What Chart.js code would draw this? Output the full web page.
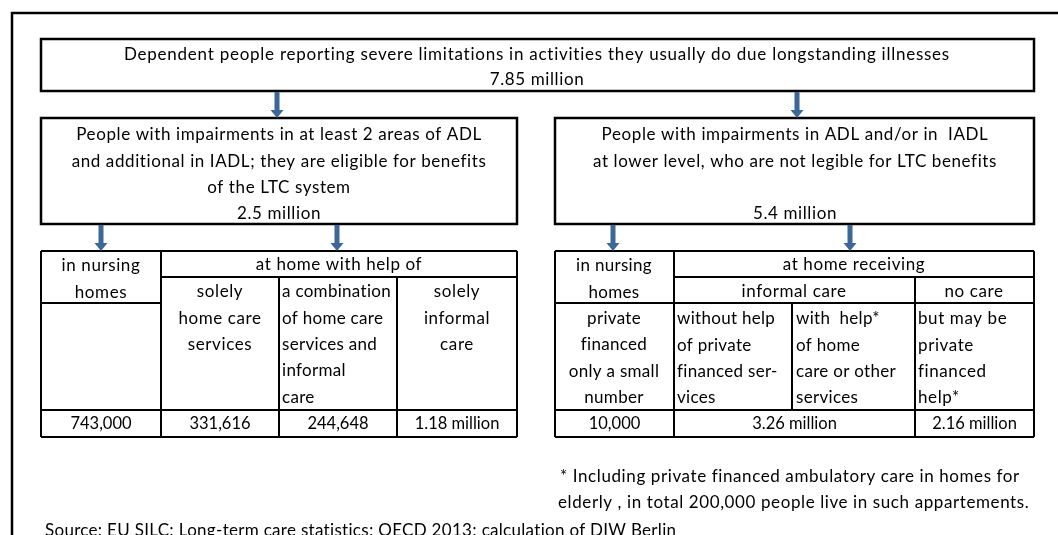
<!DOCTYPE html>
<html>
<head>
<meta charset="utf-8">
<script src="https://cdn.jsdelivr.net/npm/chart.js@4.4.1/dist/chart.umd.min.js"></script>
<style>
  html, body { margin: 0; padding: 0; background: #fff; }
  #wrap { width: 1058px; height: 535px; }
</style>
</head>
<body>
<div id="wrap"><canvas id="myChart"></canvas></div>
<script>
// data
const totalPeople = "7.85 million";
const groupTotals = ["2.5 million", "5.4 million"];
const eligibleCategories = ["in nursing homes", "solely home care services", "a combination of home care services and informal care", "solely informal care"];
const eligibleValues = ["743,000", "331,616", "244,648", "1.18 million"];
const notEligibleCategories = ["in nursing homes", "informal care", "no care"];
const notEligibleValues = ["10,000", "3.26 million", "2.16 million"];

const FONT = "17px Lato";
const SPACING = "0.6px";
const LINE = 26.3;
const ARROW = "#3c6897";

// layout in diagram units (x 0..1058, y 0..535)
const boxes = [
  [41, 39, 1034, 91],
  [41, 118, 517, 224],
  [555, 118, 1034, 224],
];
const lines = [
  // left table
  [41, 251, 517, 251], [41, 437, 517, 437], [41, 251, 41, 437], [517, 251, 517, 437],
  [161, 251, 161, 437], [161, 277, 517, 277], [41, 303, 161, 303], [41, 410, 517, 410],
  [279, 277, 279, 437], [397, 277, 397, 437],
  // right table
  [555, 251, 1034, 251], [555, 437, 1034, 437], [555, 251, 555, 437], [1034, 251, 1034, 437],
  [674, 251, 674, 437], [674, 277, 1034, 277], [555, 303, 1034, 303], [555, 410, 1034, 410],
  [915, 277, 915, 437], [792, 303, 792, 410],
];
const arrows = [[277, 92, 118], [797, 92, 118], [101, 225, 251], [337, 225, 251], [613, 225, 251], [850, 225, 251]];

// text blocks: [x, y of first line, align, lines, letter spacing]
const texts = [
  [537, 55, "center", ["Dependent people reporting severe limitations in activities they usually do due longstanding illnesses"], "0.75px"],
  [537, 80, "center", [totalPeople]],
  [279, 135, "center", ["People with impairments in at least 2 areas of ADL", "and additional in IADL; they are eligible for benefits", "of the LTC system", groupTotals[0]]],
  [795, 135, "center", ["People with impairments in ADL and/or in  IADL", "at lower level, who are not legible for LTC benefits", "", groupTotals[1]]],
  // left table
  [101, 266, "center", ["in nursing", "homes"]],
  [339, 265, "center", ["at home with help of"]],
  [220, 292, "center", ["solely", "home care", "services"]],
  [282, 292, "left", ["a combination", "of home care", "services and", "informal", "care"], "0.3px"],
  [457, 292, "center", ["solely", "informal", "care"]],
  // right table
  [614, 266, "center", ["in nursing", "homes", "private", "financed", "only a small", "number"], "0.3px"],
  [854, 265, "center", ["at home receiving"]],
  [794, 292, "center", ["informal care"]],
  [974, 292, "center", ["no care"]],
  [677, 319, "left", ["without help", "of private", "financed ser-", "vices"], "0.3px"],
  [796, 319, "left", ["with  help*", "of home", "care or other", "services"], "0.3px"],
  [918, 319, "left", ["but may be", "private", "financed", "help*"]],
  // notes
  [560, 477, "left", ["* Including private financed ambulatory care in homes for"]],
  [558, 503, "left", ["elderly , in total 200,000 people live in such appartements."]],
  [45, 531, "left", ["Source: EU SILC; Long-term care statistics; OECD 2013; calculation of DIW Berlin"], "0.3px"],
];
const valueCells = [
  [41, 161, eligibleValues[0]], [161, 279, eligibleValues[1]], [279, 397, eligibleValues[2]], [397, 517, eligibleValues[3]],
  [555, 674, notEligibleValues[0]], [674, 915, notEligibleValues[1]], [915, 1034, notEligibleValues[2]],
];

const diagram = {
  id: "diagram",
  afterDraw(chart) {
    const c = chart.ctx;
    const X = v => chart.scales.x.getPixelForValue(v);
    const Y = v => chart.scales.y.getPixelForValue(v);
    c.save();
    // outer frame
    c.strokeStyle = "#000";
    c.lineWidth = 2.5;
    c.beginPath();
    c.moveTo(X(1058), Y(13)); c.lineTo(X(12), Y(13)); c.lineTo(X(12), Y(535));
    c.stroke();

    c.lineWidth = 2.5;
    boxes.forEach(b => c.strokeRect(X(b[0]), Y(b[1]), X(b[2]) - X(b[0]), Y(b[3]) - Y(b[1])));
    c.lineWidth = 2;
    lines.forEach(l => {
      c.beginPath(); c.moveTo(X(l[0]), Y(l[1])); c.lineTo(X(l[2]), Y(l[3])); c.stroke();
    });

    c.fillStyle = ARROW;
    arrows.forEach(a => {
      const x = X(a[0]), y0 = Y(a[1]), y1 = Y(a[2]);
      c.fillRect(x - 2.5, y0, 5, y1 - y0 - 7);
      c.beginPath(); c.moveTo(x - 6.5, y1 - 8); c.lineTo(x + 6.5, y1 - 8); c.lineTo(x, y1); c.closePath(); c.fill();
    });

    c.fillStyle = "#000";
    c.font = FONT;
    c.textBaseline = "middle";
    texts.forEach(t => {
      c.textAlign = t[2];
      c.letterSpacing = t[4] || SPACING;
      t[3].forEach((s, i) => c.fillText(s, X(t[0]), Y(t[1] + i * LINE)));
    });
    c.font = "16.5px Lato";
    c.letterSpacing = "0px";
    c.textAlign = "center";
    valueCells.forEach(v => c.fillText(v[2], X((v[0] + v[1]) / 2), Y(424)));
    c.restore();
  },
};

new Chart(document.getElementById("myChart"), {
  type: "scatter",
  data: { datasets: [{ data: [], pointRadius: 0 }] },
  options: {
    responsive: true,
    maintainAspectRatio: false,
    animation: false,
    devicePixelRatio: 1,
    layout: { padding: 0 },
    plugins: { legend: { display: false }, tooltip: { enabled: false } },
    scales: {
      x: { type: "linear", min: 0, max: 1058, display: false },
      y: { type: "linear", min: 0, max: 535, reverse: true, display: false },
    },
  },
  plugins: [diagram],
});
</script>
</body>
</html>
